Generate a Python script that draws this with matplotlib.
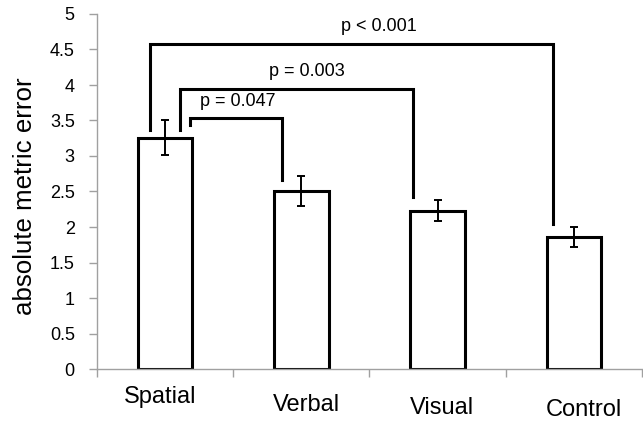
import numpy as np
import matplotlib.pyplot as plt
from matplotlib.ticker import FixedLocator

plt.rcParams['font.family'] = ['Liberation Sans', 'DejaVu Sans']

# Dados
categories = ["Spatial", "Verbal", "Visual", "Control"]
means = [3.26, 2.51, 2.23, 1.86]
errors = [0.24, 0.21, 0.145, 0.145]

# comparações: (grupo a, grupo b, texto)
comparisons = [
    (0, 1, "p = 0.047"),
    (0, 2, "p = 0.003"),
    (0, 3, "p < 0.001"),
]
bracket_heights = [3.53, 3.95, 4.58]

fig = plt.figure(figsize=(6.43, 4.23), dpi=100)
ax = fig.add_axes([97 / 643, 54 / 423, 545 / 643, 355 / 423])

x = np.arange(len(categories))
ax.bar(x, means, width=0.4, color='white', edgecolor='black', linewidth=2.2, zorder=2)
ax.errorbar(x, means, yerr=errors, fmt='none', ecolor='black', elinewidth=1.4,
            capsize=3, capthick=1.4, zorder=3)

# colchetes de significância
left_off = [0.18, 0.11, -0.11]
right_off = [-0.14, -0.18, -0.15]
left_bottom = [3.44, 3.36, 3.36]
right_bottom = [2.66, 2.42, 2.04]
text_x = [0.53, 1.04, 1.57]
for (a, b, label), h, lo, ro, lb, rb, tx in zip(comparisons, bracket_heights, left_off,
                                                right_off, left_bottom, right_bottom, text_x):
    xa, xb = a + lo, b + ro
    ax.plot([xa, xa, xb, xb], [lb, h, h, rb], color='black', linewidth=2.2,
            solid_joinstyle='miter', zorder=4)
    ax.text(tx, h + 0.12, label, ha='center', va='bottom', fontsize=13)

ax.set_xlim(-0.5, len(categories) - 0.5)
ax.set_ylim(0, 5)
ax.set_yticks(np.arange(0, 5.01, 0.5))
ax.set_yticklabels(['0', '0.5', '1', '1.5', '2', '2.5', '3', '3.5', '4', '4.5', '5'])
ax.tick_params(axis='y', labelsize=13, color='#a0a0a0', length=6, width=1, pad=10)

ax.set_xticks([])
ax.xaxis.set_minor_locator(FixedLocator(np.arange(-0.5, len(categories), 1.0)))
ax.tick_params(axis='x', which='minor', color='#a0a0a0', length=6, width=1)

for s in ['top', 'right']:
    ax.spines[s].set_visible(False)
for s in ['left', 'bottom']:
    ax.spines[s].set_color('#a0a0a0')
    ax.spines[s].set_linewidth(1)

# rótulos das categorias (desalinhados como no original)
label_dx = [-0.04, 0.04, 0.03, 0.07]
label_dy = [28, 36, 39, 41]
for i, cat in enumerate(categories):
    ax.text(i + label_dx[i], -label_dy[i] / 355, cat, transform=ax.get_xaxis_transform(),
            ha='center', va='center', fontsize=17)

fig.text(25 / 643, 1 - 196 / 423, "absolute metric error", rotation=90,
         ha='center', va='center', fontsize=18.6)

fig.savefig("out.png", dpi=100)
